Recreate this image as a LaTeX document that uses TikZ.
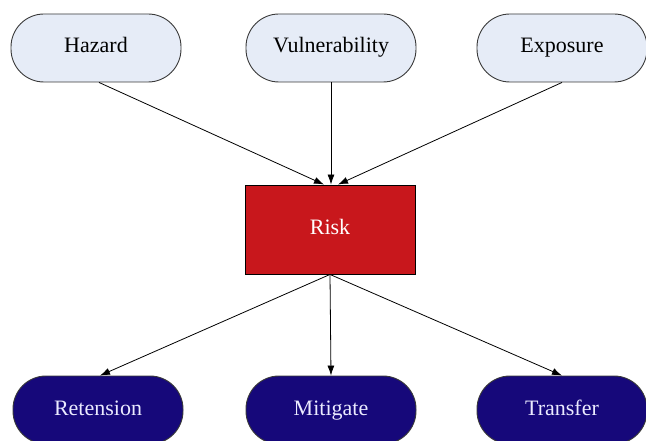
\documentclass[tikz,border=0pt]{standalone}
\usepackage{fontspec}
\setmainfont{Liberation Serif}
\usetikzlibrary{arrows.meta}
\definecolor{toplight}{HTML}{E6ECF7}
\definecolor{botdark}{HTML}{16087A}
\definecolor{riskred}{HTML}{C8171C}
\definecolor{edgegray}{HTML}{3A3A3A}
\tikzset{
  base/.style={minimum width=170pt, draw=edgegray, line width=0.9pt, inner sep=0pt,
    font=\fontsize{22}{26}\selectfont, text height=1.0em, text depth=0pt},
  topnode/.style={base, minimum height=68pt, rounded corners=33pt, fill=toplight, text=black},
  botnode/.style={base, minimum height=68pt, rounded corners=33pt, fill=botdark, text=white!92!blue},
  riskbox/.style={base, minimum height=89pt, fill=riskred, text=white, draw=black},
  conn/.style={line width=0.8pt, -{Latex[length=10pt,width=7pt]}}
}
\begin{document}
\begin{tikzpicture}[x=1pt,y=-1pt]
\clip (0,0) rectangle (646,441);
\fill[white] (0,0) rectangle (646,441);
\node[topnode] (haz) at (96,48) {Hazard};
\node[topnode] (vul) at (331,48) {Vulnerability};
\node[topnode] (exp) at (562,48) {Exposure};
\node[riskbox] (risk) at (330,229.5) {Risk};
\node[botnode] (ret) at (98,410) {Retension};
\node[botnode] (mit) at (331,410) {Mitigate};
\node[botnode] (tra) at (562,410) {Transfer};
\draw[conn] ([xshift=3pt]haz.south) -- ([xshift=-6pt]risk.north);
\draw[conn] (vul.south) -- ([xshift=1pt]risk.north);
\draw[conn] (exp.south) -- ([xshift=8pt]risk.north);
\draw[conn] (risk.south) -- ([xshift=2pt]ret.north);
\draw[conn] (risk.south) -- (mit.north);
\draw[conn] (risk.south) -- (tra.north);
\end{tikzpicture}
\end{document}
